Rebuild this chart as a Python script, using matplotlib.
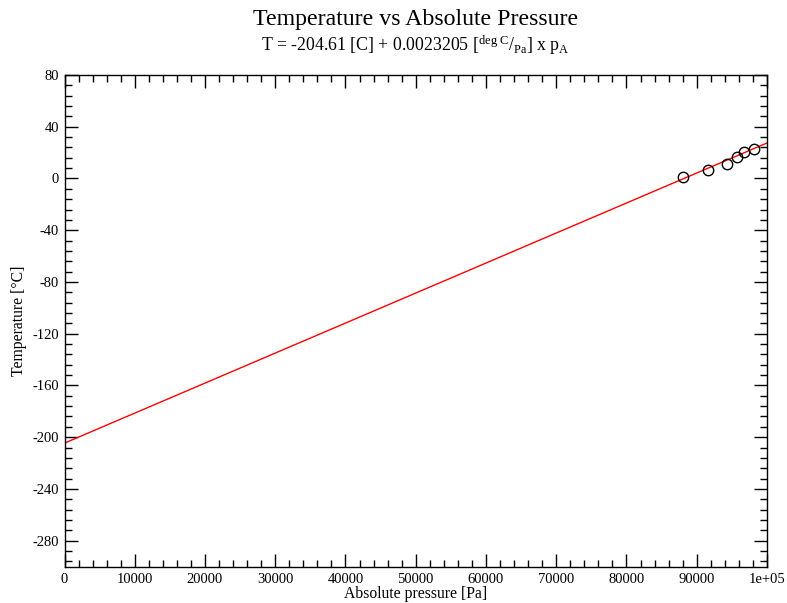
import matplotlib
matplotlib.use("Agg")
import numpy as np
import matplotlib.pyplot as plt
from matplotlib.ticker import MultipleLocator, FixedLocator

plt.rcParams["font.family"] = ["Liberation Serif", "DejaVu Serif"]
plt.rcParams["mathtext.fontset"] = "custom"
plt.rcParams["mathtext.rm"] = "Liberation Serif"
plt.rcParams["mathtext.it"] = "Liberation Serif:italic"
plt.rcParams["axes.unicode_minus"] = False

pressure = [88090, 91560, 94350, 95730, 96770, 98150]
temperature = [1.2, 6.8, 11.4, 16.9, 20.2, 22.8]

# fitted line from the subtitle
fit_intercept = -204.61
fit_slope = 0.0023205
line_x = np.array([0, 100000])
line_T = fit_intercept + fit_slope * line_x

x_ticks = [0, 10000, 20000, 30000, 40000, 50000, 60000, 70000, 80000, 90000, 100000]
x_labels = ["0", "10000", "20000", "30000", "40000", "50000",
            "60000", "70000", "80000", "90000", "1e+05"]
y_ticks = [-280, -240, -200, -160, -120, -80, -40, 0, 40, 80]

W, H = 787, 603
fig = plt.figure(figsize=(W / 100, H / 100), dpi=100)
left, right, top, bottom = 64.5, 767, 75, 566.5
ax = fig.add_axes([left / W, 1 - bottom / H, (right - left) / W, (bottom - top) / H])

ax.plot(line_x, line_T, color="red", lw=1.0, zorder=2)
ax.plot(pressure, temperature, "o", ms=7.5, mfc="none", mec="black", mew=1.0, zorder=3)

ax.set_xlim(0, 100000)
ax.set_ylim(-300, 80)
ax.xaxis.set_major_locator(FixedLocator(x_ticks))
ax.set_xticklabels(x_labels)
ax.xaxis.set_minor_locator(MultipleLocator(2000))
ax.yaxis.set_major_locator(FixedLocator(y_ticks))
ax.yaxis.set_minor_locator(MultipleLocator(8))

ax.tick_params(which="both", direction="in", top=True, right=True, width=1.0)
ax.tick_params(axis="x", which="major", length=9.5, pad=5, labelsize=10.5)
ax.tick_params(axis="y", which="major", length=9.5, pad=4, labelsize=10.5)
ax.tick_params(which="minor", length=4.7)
for s in ax.spines.values():
    s.set_linewidth(1.0)

ax.set_xlabel("Absolute pressure [Pa]", fontsize=11.3, labelpad=0)
ax.set_ylabel("Temperature [°C]", fontsize=11.3, labelpad=4)

fig.text((left + right) / 2 / W, 1 - 20 / H, "Temperature vs Absolute Pressure",
         ha="center", va="center", fontsize=17.2)
fig.text((left + right) / 2 / W, 1 - 45 / H,
         r"T = -204.61 [C] + 0.0023205 [${}^{\mathrm{deg\ C}}$/$_{\mathrm{Pa}}$] x p$_{\mathrm{A}}$",
         ha="center", va="center", fontsize=12.8)

fig.savefig("out.png", dpi=100)
